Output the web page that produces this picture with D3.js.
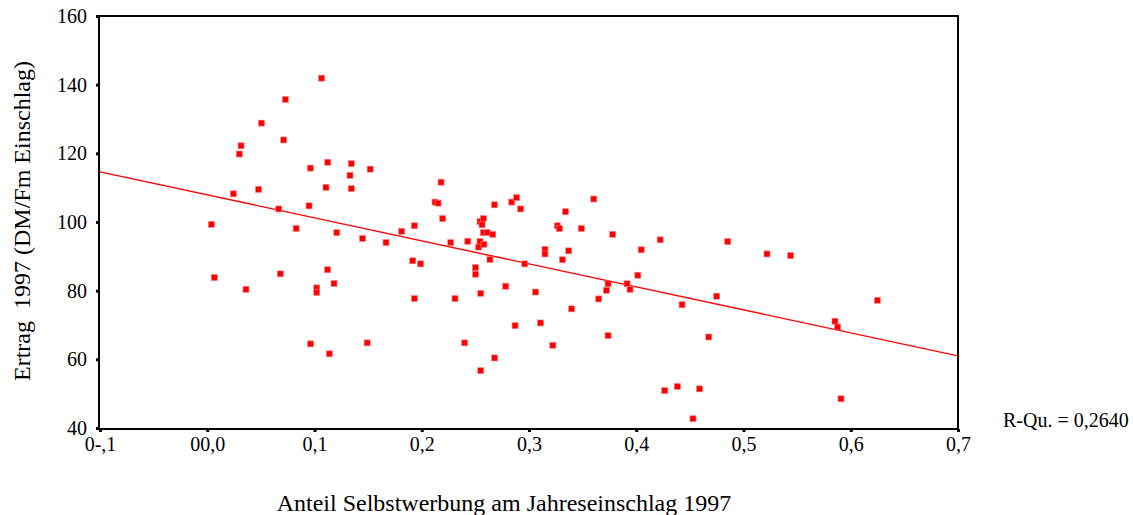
<!DOCTYPE html>
<html>
<head>
<meta charset="utf-8">
<script src="https://cdn.jsdelivr.net/npm/d3@7"></script>
<style>
  html, body { margin: 0; padding: 0; background: #fff; }
  svg { display: block; font-family: "Liberation Serif", "DejaVu Serif", serif; }
</style>
</head>
<body>
<svg id="chart" width="1133" height="515"></svg>
<script>
// Anteil Selbstwerbung (share of self-harvesting) per holding
const anteil = [
  0.0038, 0.0066, 0.0243, 0.0299, 0.0315, 0.0361, 0.0478, 0.0506, 0.0667, 0.0681,
  0.0713, 0.0728, 0.0829, 0.0949, 0.0961, 0.0963, 0.1021, 0.1021, 0.1067, 0.1107,
  0.1124, 0.1123, 0.1138, 0.1182, 0.1208, 0.1331, 0.1343, 0.1343, 0.1448, 0.1491,
  0.1519, 0.1667, 0.1813, 0.1916, 0.1931, 0.1931, 0.1990, 0.2124, 0.2152, 0.2180,
  0.2195, 0.2270, 0.2310, 0.2400, 0.2429, 0.2501, 0.2501, 0.2531, 0.2543, 0.2550,
  0.2550, 0.2543, 0.2562, 0.2574, 0.2574, 0.2580, 0.2611, 0.2636, 0.2662, 0.2680,
  0.2678, 0.2783, 0.2839, 0.2870, 0.2885, 0.2921, 0.2960, 0.3061, 0.3107, 0.3149,
  0.3149, 0.3222, 0.3264, 0.3283, 0.3311, 0.3340, 0.3370, 0.3398, 0.3488, 0.3604,
  0.3650, 0.3721, 0.3737, 0.3737, 0.3780, 0.3914, 0.3942, 0.4015, 0.4046, 0.4223,
  0.4265, 0.4383, 0.4427, 0.4529, 0.4590, 0.4676, 0.4750, 0.4853, 0.5219, 0.5440,
  0.5853, 0.5878, 0.5909, 0.6248
];
// Ertrag 1997 in DM per Fm Einschlag
const ertrag = [
  99.3, 83.8, 108.2, 119.8, 122.2, 80.4, 109.5, 128.8, 103.8, 84.9,
  123.9, 135.7, 98.1, 104.7, 115.7, 64.5, 80.8, 79.5, 141.9, 110.1,
  117.4, 86.1, 61.6, 82.1, 96.9, 113.6, 117.0, 109.7, 95.2, 64.8,
  115.4, 94.0, 97.3, 88.7, 77.7, 98.9, 87.8, 105.8, 105.5, 111.6,
  101.0, 94.0, 77.7, 64.8, 94.4, 86.7, 84.8, 92.7, 94.3, 79.2,
  56.7, 100.1, 99.2, 101.0, 96.9, 93.5, 96.9, 89.1, 96.4, 60.4,
  105.0, 81.3, 105.8, 69.8, 107.1, 103.8, 87.8, 79.6, 70.6, 92.0,
  90.7, 64.1, 98.9, 98.1, 89.0, 103.0, 91.6, 74.7, 98.1, 106.7,
  77.6, 80.1, 82.0, 66.9, 96.4, 82.0, 80.4, 84.5, 91.9, 94.8,
  50.9, 52.1, 75.9, 42.7, 51.4, 66.5, 78.4, 94.3, 90.7, 90.2,
  71.1, 69.4, 48.5, 77.2
];
// Fitted line (intercept, slope) and its R-squared
const fitLine = [107.9, -67.0];
const rSquared = "0,2640";

const xTicks = [-0.1, 0.0, 0.1, 0.2, 0.3, 0.4, 0.5, 0.6, 0.7];
const xTickLabels = ["0-,1", "00,0", "0,1", "0,2", "0,3", "0,4", "0,5", "0,6", "0,7"];
const yTicks = [40, 60, 80, 100, 120, 140, 160];
const yTickLabels = ["40", "60", "80", "100", "120", "140", "160"];

const xTitle = "Anteil Selbstwerbung am Jahreseinschlag 1997";
const yTitle = "Ertrag  1997 (DM/Fm Einschlag)";

const svg = d3.select("#chart");
const plot = { left: 99, right: 958, top: 16, bottom: 429 };

const x = d3.scaleLinear().domain([-0.1, 0.7]).range([plot.left + 1, plot.right]);
const y = d3.scaleLinear().domain([40, 160]).range([plot.bottom - 1, plot.top]);

// frame
svg.append("rect")
  .attr("x", plot.left).attr("y", plot.top)
  .attr("width", plot.right - plot.left).attr("height", plot.bottom - plot.top)
  .attr("fill", "none").attr("stroke", "#000").attr("stroke-width", 2);

// regression line clipped to the frame
svg.append("defs").append("clipPath").attr("id", "clip")
  .append("rect")
  .attr("x", plot.left).attr("y", plot.top)
  .attr("width", plot.right - plot.left).attr("height", plot.bottom - plot.top);

const [b0, b1] = fitLine;
svg.append("line")
  .attr("clip-path", "url(#clip)")
  .attr("x1", x(-0.1)).attr("y1", y(b0 + b1 * -0.1))
  .attr("x2", x(0.7)).attr("y2", y(b0 + b1 * 0.7))
  .attr("stroke", "#ff0000").attr("stroke-width", 1.4);

// axes
const xAxis = d3.axisBottom(x).tickValues(xTicks)
  .tickFormat((d, i) => xTickLabels[i]).tickSize(3).tickPadding(5);
const gx = svg.append("g").attr("transform", `translate(0,${plot.bottom})`).call(xAxis);
gx.select(".domain").remove();
gx.selectAll(".tick line").attr("stroke", "#000").attr("stroke-width", 3);
gx.selectAll(".tick text").attr("font-size", 20).attr("fill", "#000")
  .attr("font-family", "Liberation Serif, serif");

const yAxis = d3.axisLeft(y).tickValues(yTicks)
  .tickFormat((d, i) => yTickLabels[i]).tickSize(3).tickPadding(9);
const gy = svg.append("g").attr("transform", `translate(${plot.left},0)`).call(yAxis);
gy.select(".domain").remove();
gy.selectAll(".tick line").attr("stroke", "#000").attr("stroke-width", 3);
gy.selectAll(".tick text").attr("font-size", 20).attr("fill", "#000")
  .attr("font-family", "Liberation Serif, serif");

// points
const pts = anteil.map((a, i) => ({ a, e: ertrag[i] }));
const s = 6;
svg.append("g").selectAll("rect").data(pts).join("rect")
  .attr("x", d => x(d.a) - s / 2)
  .attr("y", d => y(d.e) - s / 2)
  .attr("width", s).attr("height", s)
  .attr("fill", "#ff0000")
  .attr("stroke", "#ff8080").attr("stroke-width", 0.6);

// titles
svg.append("text")
  .attr("x", 504).attr("y", 511)
  .attr("text-anchor", "middle").attr("font-size", 24)
  .text(xTitle);

svg.append("text")
  .attr("transform", "translate(30,221) rotate(-90)")
  .attr("text-anchor", "middle").attr("font-size", 24)
  .style("white-space", "pre")
  .text(yTitle);

svg.append("text")
  .attr("x", 1003).attr("y", 427)
  .attr("font-size", 20)
  .text("R-Qu. = " + rSquared);
</script>
</body>
</html>
